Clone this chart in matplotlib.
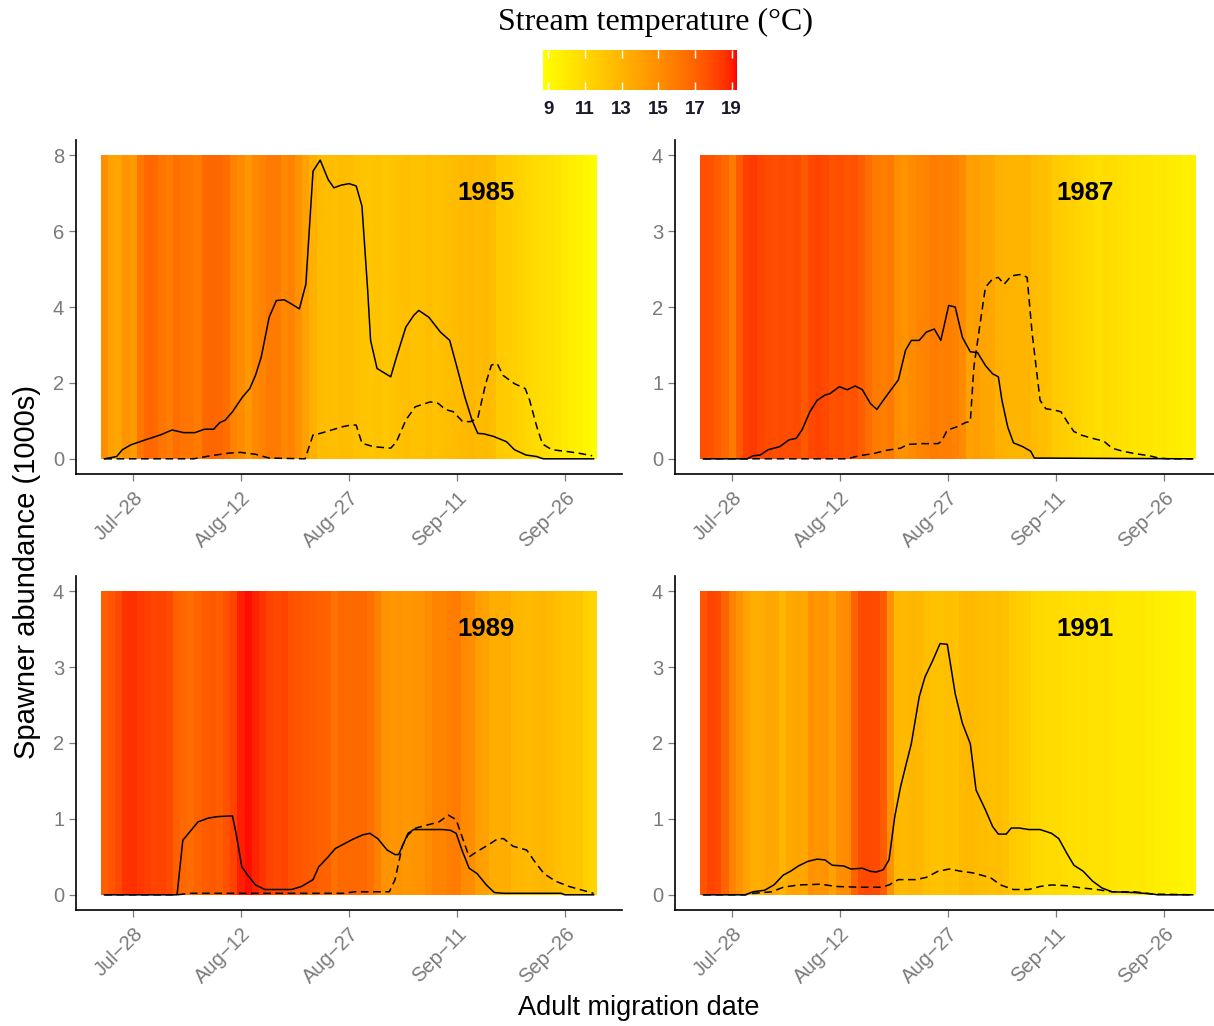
import numpy as np
import pandas as pd
import matplotlib
matplotlib.use("Agg")
import matplotlib.pyplot as plt
import matplotlib.dates as mdates
from matplotlib.colors import ListedColormap, Normalize

# daily stream temperature (deg C), one value per day starting Jul-24
temp_1985 = [15.0, 14.0, 13.8, 14.7, 14.4, 16.2, 16.8, 16.8, 16.2, 15.9,
             16.5, 16.2, 16.2, 15.9, 16.8, 16.9, 16.8, 16.5, 15.6, 15.2,
             14.5, 15.3, 15.6, 16.0, 16.0, 15.3, 15.6, 14.8, 14.0, 13.2,
             12.6, 12.5, 12.4, 12.6, 12.5, 12.3, 12.1, 12.0, 12.2, 12.0,
             12.1, 12.3, 12.4, 12.2, 12.3, 12.5, 12.3, 12.4, 12.5, 12.6,
             12.7, 12.8, 12.6, 12.7, 12.5, 11.8, 11.6, 11.5, 11.3, 11.0,
             10.8, 10.7, 10.5, 10.3, 10.0, 9.7, 9.5, 9.2, 8.9]
temp_1987 = [17.8, 17.7, 17.3, 16.8, 16.0, 17.4, 18.3, 18.4, 18.1, 17.9,
             17.8, 17.9, 17.8, 17.9, 17.4, 18.0, 18.1, 18.0, 17.7, 17.8,
             17.6, 17.7, 17.2, 16.6, 16.0, 15.8, 16.0, 15.0, 14.8, 15.1,
             15.5, 15.6, 15.9, 15.7, 15.8, 15.6, 15.2, 14.0, 14.2, 13.8,
             13.7, 13.2, 13.1, 13.0, 12.9, 13.0, 12.6, 12.4, 12.3, 11.8,
             11.6, 11.5, 11.3, 10.9, 10.8, 10.6, 10.8, 10.7, 10.5, 10.4,
             10.3, 10.2, 10.2, 10.0, 10.1, 9.9, 9.8, 9.6, 9.5]
temp_1989 = [17.2, 17.6, 18.0, 18.6, 18.7, 18.5, 18.3, 18.1, 18.2, 17.9,
             17.1, 16.8, 16.6, 17.0, 17.3, 17.4, 17.2, 17.7, 18.2, 19.0,
             19.2, 18.9, 18.6, 18.2, 18.0, 18.1, 17.7, 17.6, 17.4, 17.3,
             17.1, 17.0, 16.4, 16.8, 16.7, 16.8, 16.7, 16.4, 15.7, 14.8,
             14.6, 14.7, 14.5, 14.6, 14.7, 15.2, 15.6, 15.5, 15.8, 15.9,
             15.2, 15.0, 14.2, 14.0, 13.4, 13.3, 13.4, 12.9, 12.8, 12.7,
             12.8, 12.9, 12.7, 12.4, 12.3, 12.1, 12.0, 11.4, 11.2]
temp_1991 = [17.6, 18.1, 18.0, 17.0, 15.6, 14.8, 14.0, 13.3, 13.4, 13.7,
             13.6, 12.9, 13.6, 13.8, 13.7, 14.8, 14.6, 14.7, 14.0, 15.0,
             15.1, 17.0, 17.9, 18.0, 17.9, 17.3, 14.8, 12.8, 12.7, 12.9,
             12.8, 12.4, 12.3, 12.2, 12.4, 12.3, 12.7, 12.8, 12.6, 12.5,
             12.4, 12.5, 12.3, 11.7, 11.6, 11.5, 11.0, 10.9, 10.8, 10.8,
             10.7, 10.6, 10.5, 10.6, 10.4, 10.5, 10.4, 10.2, 10.1, 10.1,
             10.0, 10.1, 9.9, 9.7, 9.6, 9.5, 9.4, 9.3, 9.2]

# spawner abundance (1000s); x = days after Jul-24
solid_x_1985 = [0, 1.7, 2.5, 3.7, 5.7, 7.8, 9.4, 11.0, 12.6, 13.9, 15.2, 16.0, 16.8, 17.8,
                19.2, 20.2, 21.0, 21.8, 22.9, 23.9, 25.0, 26.0, 27.1, 28.0, 29.0, 30.0,
                31.1, 31.9, 32.9, 34.0, 35.0, 35.8, 36.6, 37.0, 37.9, 39.8, 40.6, 41.9,
                43.0, 43.7, 45.1, 46.7, 48.0, 49.0, 50.1, 51.1, 51.9, 52.7, 54.1, 55.9,
                57.0, 58.6, 60.1, 61.0, 68.0]
solid_y_1985 = [0, 0.06, 0.24, 0.37, 0.5, 0.63, 0.76, 0.69, 0.69, 0.78, 0.78, 0.95, 1.02, 1.24,
                1.63, 1.85, 2.2, 2.68, 3.73, 4.17, 4.19, 4.08, 3.95, 4.6, 7.58, 7.87,
                7.36, 7.14, 7.21, 7.25, 7.19, 6.66, 4.43, 3.12, 2.38, 2.16, 2.68, 3.47,
                3.78, 3.91, 3.73, 3.34, 3.12, 2.42, 1.63, 1.02, 0.67, 0.66, 0.59, 0.45,
                0.24, 0.1, 0.06, 0, 0]
dash_x_1985 = [0, 12.4, 14.7, 17.3, 18.9, 21.0, 22.9, 27.9, 29.0, 30.0, 31.6, 33.2, 34.3,
               35.0, 35.8, 37.4, 39.8, 40.6, 41.9, 43.2, 45.3, 46.4, 47.4, 48.5, 49.8,
               50.9, 51.9, 53.0, 53.8, 54.6, 55.4, 57.0, 58.5, 59.1, 60.1, 60.9, 62.2,
               64.4, 65.9, 67.8]
dash_y_1985 = [0, 0, 0.08, 0.15, 0.17, 0.12, 0.02, 0, 0.63, 0.67, 0.76, 0.85, 0.89,
               0.89, 0.41, 0.32, 0.28, 0.45, 1.02, 1.37, 1.5, 1.46, 1.3, 1.24, 0.98,
               0.98, 1.07, 1.98, 2.47, 2.51, 2.2, 1.98, 1.85, 1.55, 0.85, 0.39, 0.24,
               0.19, 0.15, 0.08]

solid_x_1987 = [0, 6.1, 6.9, 7.9, 9.0, 10.6, 11.9, 12.9, 13.7, 14.8, 15.8, 16.9, 17.6, 18.9,
                20.0, 21.1, 22.1, 23.2, 24.1, 25.0, 26.0, 27.1, 28.1, 28.9, 30.0, 31.0,
                32.1, 33.0, 34.1, 35.0, 36.0, 37.1, 38.1, 39.2, 40.2, 41.0, 41.5, 42.3,
                43.1, 44.4, 45.5, 46.0, 68.0]
solid_y_1987 = [0, 0, 0.04, 0.05, 0.12, 0.16, 0.25, 0.27, 0.38, 0.62, 0.77, 0.84, 0.86, 0.95,
                0.91, 0.96, 0.91, 0.73, 0.65, 0.77, 0.9, 1.04, 1.43, 1.56, 1.56, 1.67,
                1.71, 1.56, 2.02, 2.0, 1.6, 1.41, 1.4, 1.23, 1.12, 1.08, 0.77, 0.42,
                0.21, 0.16, 0.1, 0.01, 0]
dash_x_1987 = [0, 20.0, 21.6, 23.7, 25.3, 27.4, 28.4, 30.5, 32.6, 33.1, 33.9, 35.2, 36.5,
               37.1, 37.6, 38.4, 39.2, 40.2, 41.0, 41.8, 42.8, 44.2, 45.0, 45.7, 46.8,
               47.6, 48.9, 49.7, 50.7, 51.5, 52.6, 54.1, 55.7, 56.8, 58.3, 59.9, 62.0,
               63.3, 64.6, 68.0]
dash_y_1987 = [0, 0, 0.04, 0.07, 0.11, 0.14, 0.19, 0.2, 0.2, 0.23, 0.38, 0.42, 0.48,
               0.49, 1.21, 1.74, 2.26, 2.37, 2.39, 2.3, 2.41, 2.43, 2.39, 1.65, 0.77,
               0.66, 0.64, 0.62, 0.47, 0.36, 0.31, 0.27, 0.23, 0.14, 0.1, 0.07, 0.04,
               0.01, 0, 0]

solid_x_1989 = [0, 10.1, 10.9, 11.7, 13.0, 14.4, 15.7, 17.8, 18.3, 19.1, 19.9, 21.0, 22.3,
                24.2, 26.0, 27.4, 29.0, 29.8, 31.1, 32.1, 33.5, 34.5, 35.9, 36.9, 38.0,
                39.3, 40.4, 40.9, 42.2, 43.0, 44.9, 47.0, 48.1, 48.9, 49.7, 50.7, 51.8,
                53.1, 54.2, 55.5, 63.5, 64.0, 68.0]
solid_y_1989 = [0, 0, 0.72, 0.81, 0.96, 1.01, 1.03, 1.04, 0.81, 0.37, 0.26, 0.13, 0.07,
                0.07, 0.07, 0.11, 0.2, 0.37, 0.5, 0.61, 0.68, 0.73, 0.79, 0.81, 0.74,
                0.59, 0.53, 0.53, 0.81, 0.86, 0.86, 0.86, 0.85, 0.81, 0.59, 0.35, 0.28,
                0.13, 0.03, 0.02, 0.02, 0, 0]
dash_x_1989 = [0, 10.1, 12.0, 33.2, 34.8, 39.6, 40.4, 41.4, 42.2, 43.3, 44.9, 46.5, 47.8,
               48.9, 49.7, 50.7, 51.8, 53.4, 54.7, 55.5, 56.8, 58.7, 59.8, 61.1, 62.7,
               64.6, 66.1, 68.0]
dash_y_1989 = [0, 0, 0.02, 0.02, 0.04, 0.04, 0.2, 0.64, 0.79, 0.88, 0.92, 0.96, 1.05,
               0.99, 0.77, 0.5, 0.57, 0.66, 0.74, 0.74, 0.64, 0.59, 0.44, 0.28, 0.18,
               0.11, 0.07, 0.02]

solid_x_1991 = [0, 5.8, 6.9, 8.5, 9.8, 11.1, 12.1, 13.2, 14.5, 15.8, 16.9, 17.9, 19.5, 20.5,
                22.1, 23.2, 24.0, 25.0, 25.8, 26.6, 27.4, 28.1, 28.9, 30.0, 30.8, 31.8,
                32.9, 33.9, 35.0, 36.0, 37.1, 37.9, 39.2, 40.2, 41.0, 42.1, 42.8, 43.9,
                45.2, 46.8, 48.4, 49.4, 50.5, 51.5, 52.8, 54.1, 55.4, 56.8, 59.9, 62.5,
                63.1, 68.0]
solid_y_1991 = [0, 0, 0.04, 0.06, 0.13, 0.26, 0.31, 0.38, 0.44, 0.47, 0.46, 0.39, 0.38, 0.34,
                0.35, 0.31, 0.3, 0.33, 0.46, 1.03, 1.42, 1.69, 1.99, 2.61, 2.87, 3.07,
                3.31, 3.3, 2.65, 2.26, 1.99, 1.38, 1.12, 0.9, 0.8, 0.8, 0.88, 0.88,
                0.86, 0.86, 0.81, 0.74, 0.55, 0.39, 0.31, 0.18, 0.09, 0.04, 0.03, 0.01,
                0, 0]
dash_x_1991 = [0, 5.8, 6.9, 9.5, 11.1, 13.2, 16.3, 18.4, 22.1, 24.7, 25.8, 27.1, 29.5,
               31.0, 32.6, 34.2, 35.8, 37.4, 39.0, 40.0, 41.3, 43.1, 45.2, 46.8, 48.4,
               50.5, 52.6, 54.7, 56.8, 59.9, 62.5, 68.0]
dash_y_1991 = [0, 0, 0.02, 0.04, 0.1, 0.13, 0.14, 0.11, 0.1, 0.1, 0.13, 0.2, 0.2,
               0.23, 0.31, 0.34, 0.31, 0.29, 0.25, 0.22, 0.13, 0.07, 0.07, 0.11, 0.13,
               0.12, 0.09, 0.07, 0.04, 0.04, 0.01, 0]

years = [1985, 1987, 1989, 1991]
ymax = [8, 4, 4, 4]
temps = [temp_1985, temp_1987, temp_1989, temp_1991]
solids = [(solid_x_1985, solid_y_1985), (solid_x_1987, solid_y_1987),
          (solid_x_1989, solid_y_1989), (solid_x_1991, solid_y_1991)]
dashes = [(dash_x_1985, dash_y_1985), (dash_x_1987, dash_y_1987),
          (dash_x_1989, dash_y_1989), (dash_x_1991, dash_y_1991)]
tick_days = ["07-28", "08-12", "08-27", "09-11", "09-26"]
tick_labels = ["Jul\u221228", "Aug\u221212", "Aug\u221227", "Sep\u221211", "Sep\u221226"]
tmin, tmax = 8.7, 19.3


# yellow -> red gradient interpolated in Lab (like ggplot's scale_fill_gradient)
def lab_to_rgb(L, a, b):
    fy = (L + 16) / 116
    fx = fy + a / 500
    fz = fy - b / 200
    finv = lambda t: np.where(t > 6 / 29, t ** 3, 3 * (6 / 29) ** 2 * (t - 4 / 29))
    xyz = np.array([0.95047 * finv(fx), finv(fy), 1.08883 * finv(fz)])
    M = np.array([[3.2406, -1.5372, -0.4986],
                  [-0.9689, 1.8758, 0.0415],
                  [0.0557, -0.2040, 1.0570]])
    lin = np.clip(M @ xyz, 0, 1)
    rgb = np.where(lin <= 0.0031308, 12.92 * lin, 1.055 * lin ** (1 / 2.4) - 0.055)
    return np.clip(rgb, 0, 1).T


s = np.linspace(0, 1, 256)
lab_y = np.array([97.14, -21.55, 94.48])
lab_r = np.array([53.24, 80.09, 67.20])
lab = lab_y[:, None] * (1 - s) + lab_r[:, None] * s
cmap = ListedColormap(lab_to_rgb(*lab))
norm = Normalize(tmin, tmax)

W, H = 1214, 1026
fig = plt.figure(figsize=(W / 100, H / 100), dpi=100)
plt.rcParams['font.family'] = ['Liberation Sans', 'DejaVu Sans']

# axes boxes in pixels: left, top
boxes = [(76, 140), (675, 140), (76, 576), (675, 576)]
aw, ah = 546, 334

grey = '#7a7a7a'
mesh = None
for i, yr in enumerate(years):
    l, t = boxes[i]
    ax = fig.add_axes([l / W, 1 - (t + ah) / H, aw / W, ah / H])
    base = pd.Timestamp(f"{yr}-07-24")
    edges = mdates.date2num(base + pd.to_timedelta(np.arange(70) - 0.5, unit='D'))
    mesh = ax.pcolormesh(edges, [0, ymax[i]], np.array([temps[i]]), cmap=cmap, norm=norm,
                         shading='flat', antialiased=False, linewidth=0)
    sx = mdates.date2num(base + pd.to_timedelta(solids[i][0], unit='D'))
    ax.plot(sx, solids[i][1], color='black', lw=1.1)
    dx = mdates.date2num(base + pd.to_timedelta(dashes[i][0], unit='D'))
    ax.plot(dx, dashes[i][1], color='black', lw=1.1, linestyle=(0, (5, 3)))

    rng = edges[-1] - edges[0]
    ax.set_xlim(edges[0] - 0.05 * rng, edges[-1] + 0.05 * rng)
    ax.set_ylim(-0.05 * ymax[i], 1.05 * ymax[i])
    ax.set_yticks(np.arange(0, ymax[i] + 1, 2 if ymax[i] == 8 else 1))
    ax.set_xticks(mdates.date2num(pd.to_datetime([f"{yr}-{d}" for d in tick_days])))
    ax.set_xticklabels(tick_labels, rotation=45, ha='right', va='top', rotation_mode='anchor')
    ax.tick_params(colors=grey, labelsize=14.5, length=5, width=0.9)
    ax.tick_params(axis='x', pad=5)
    for sp in ['top', 'right']:
        ax.spines[sp].set_visible(False)
    for sp in ['left', 'bottom']:
        ax.spines[sp].set_linewidth(1.2)
    ax.text(base + pd.Timedelta(days=53), 0.875 * ymax[i], str(yr), fontsize=18.5,
            fontweight='bold', ha='center', va='center')

# colour legend on top
cax = fig.add_axes([543 / W, 1 - 90 / H, 194 / W, 40 / H])
cb = fig.colorbar(mesh, cax=cax, orientation='horizontal', ticks=[9, 11, 13, 15, 17, 19])
cb.outline.set_visible(False)
cax.tick_params(axis='x', direction='in', length=6, width=1, color='white',
                top=True, bottom=True, labelsize=13.5, labelcolor='#1a1a2a', pad=8)
for lab_ in cax.get_xticklabels():
    lab_.set_fontweight('bold')
fig.text(655 / W, 1 - 22 / H, "Stream temperature (\u00b0C)", fontsize=23,
         family='Liberation Serif', ha='center', va='center')

fig.text(27 / W, 1 - 572 / H, "Spawner abundance (1000s)", fontsize=21, rotation=90,
         ha='center', va='center')
fig.text(639 / W, 1 - 1008 / H, "Adult migration date", fontsize=19.5,
         ha='center', va='center')

fig.savefig("out.png", dpi=100)
